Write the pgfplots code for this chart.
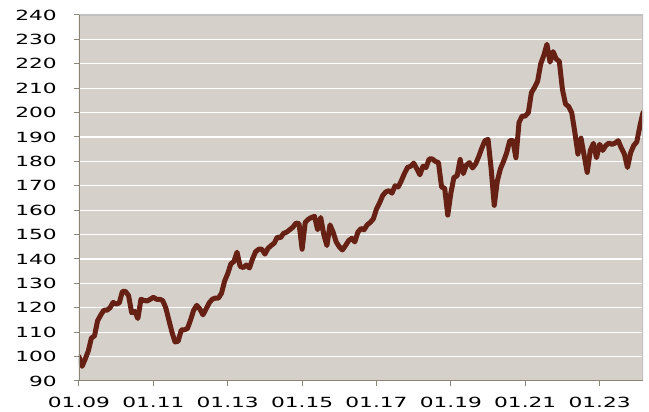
\documentclass[border=0pt]{standalone}
\usepackage{fontspec}
\setmainfont{DejaVu Sans}[FakeStretch=1.55]
\usepackage{pgfplots}
\pgfplotsset{compat=1.18}
\definecolor{bg}{RGB}{213,209,202}
\definecolor{ln}{RGB}{103,33,20}
\definecolor{ax}{RGB}{140,134,120}
\definecolor{fr}{RGB}{192,192,192}
\begin{document}
\begin{tikzpicture}
\path[use as bounding box] (-79pt,-31pt) rectangle (570pt,381pt);
\begin{axis}[
  at={(0pt,0pt)}, anchor=south west,
  scale only axis, width=564pt, height=366pt,
  xmin=0, xmax=182, ymin=90, ymax=240,
  xtick={0,24,...,168},
  xticklabels={01.09,01.11,01.13,01.15,01.17,01.19,01.21,01.23},
  ytick={90,100,...,240},
  /pgf/number format/assume math mode=true,
  tick align=outside, major tick length=5pt,
  tick style={ax, line width=1pt},
  xtick pos=bottom, ytick pos=left,
  ticklabel style={font=\fontsize{14}{16}\selectfont, text=black},
  yticklabel style={anchor=east, inner sep=0pt, xshift=-17pt},
  xticklabel style={anchor=north, inner sep=0pt, yshift=-11pt},
  axis background/.style={fill=bg},
  ymajorgrids, grid style={white, line width=1.3pt},
  axis line style={draw=none},
]
\addplot[ln, line width=5pt, line join=round, line cap=round] coordinates {
(0,100)(1,96)(2,99)(3,102.3)(4,107.6)(5,108.5)(6,114.7)(7,117)(8,119)(9,119)
(10,120)(11,122.2)(12,121.5)(13,122)(14,126.7)(15,126.7)(16,125)(17,118)(18,118.5)(19,115.6)
(20,123.5)(21,123)(22,122.8)(23,123.5)(24,124.3)(25,123.5)(26,123.5)(27,123)(28,120)(29,115)
(30,110)(31,106)(32,106.3)(33,110.9)(34,111)(35,111.5)(36,115)(37,119)(38,121)(39,119.5)
(40,117.1)(41,119.5)(42,122)(43,123.5)(44,124)(45,124)(46,126)(47,131)(48,134)(49,138)
(50,139)(51,142.8)(52,137)(53,136.5)(54,137.5)(55,136.3)(56,140)(57,143)(58,144)(59,144)
(60,142)(61,144.4)(62,145.5)(63,146.5)(64,149)(65,148.7)(66,150.5)(67,151)(68,152)(69,153)
(70,154.7)(71,154.5)(72,144)(73,155)(74,156.3)(75,157)(76,157.5)(77,152)(78,157)(79,150)
(80,145.5)(81,154)(82,151)(83,147)(84,145)(85,143.7)(86,145.5)(87,147.5)(88,148.5)(89,147)
(90,151)(91,152.5)(92,152)(93,154)(94,155)(95,156.5)(96,160.5)(97,163)(98,166)(99,167.5)
(100,168)(101,167)(102,170)(103,169.5)(104,172)(105,175)(106,177.5)(107,178)(108,179.3)(109,177)
(110,174.5)(111,178)(112,177.5)(113,181)(114,181)(115,180)(116,179.5)(117,169.5)(118,169)(119,158)
(120,167)(121,173.5)(122,174)(123,180.8)(124,175)(125,178.5)(126,179.5)(127,177.3)(128,179)(129,182)
(130,185.5)(131,188.5)(132,189)(133,177)(134,162)(135,172)(136,177)(137,180)(138,183.5)(139,188.5)
(140,188.5)(141,181.5)(142,196)(143,198.6)(144,198.6)(145,200)(146,208.2)(147,210.3)(148,212.9)(149,220)
(150,223.5)(151,228)(152,220.7)(153,225)(154,222)(155,221)(156,209.5)(157,203.5)(158,202.5)(159,200)
(160,192)(161,183)(162,189.5)(163,182.5)(164,175.5)(165,184.5)(166,187.4)(167,181.5)(168,187)(169,184.5)
(170,186.5)(171,187.5)(172,187)(173,187.5)(174,188.5)(175,185.5)(176,183)(177,177.5)(178,183.5)(179,186.5)
(180,188)(181,194.5)(182,200)
};
\draw[fr, line width=1.2pt] (rel axis cs:0,1) -- (rel axis cs:1,1) -- (rel axis cs:1,0);
\draw[ax, line width=1.2pt] (rel axis cs:0,1) -- (rel axis cs:0,0) -- (rel axis cs:1,0);
\end{axis}
\end{tikzpicture}
\end{document}
